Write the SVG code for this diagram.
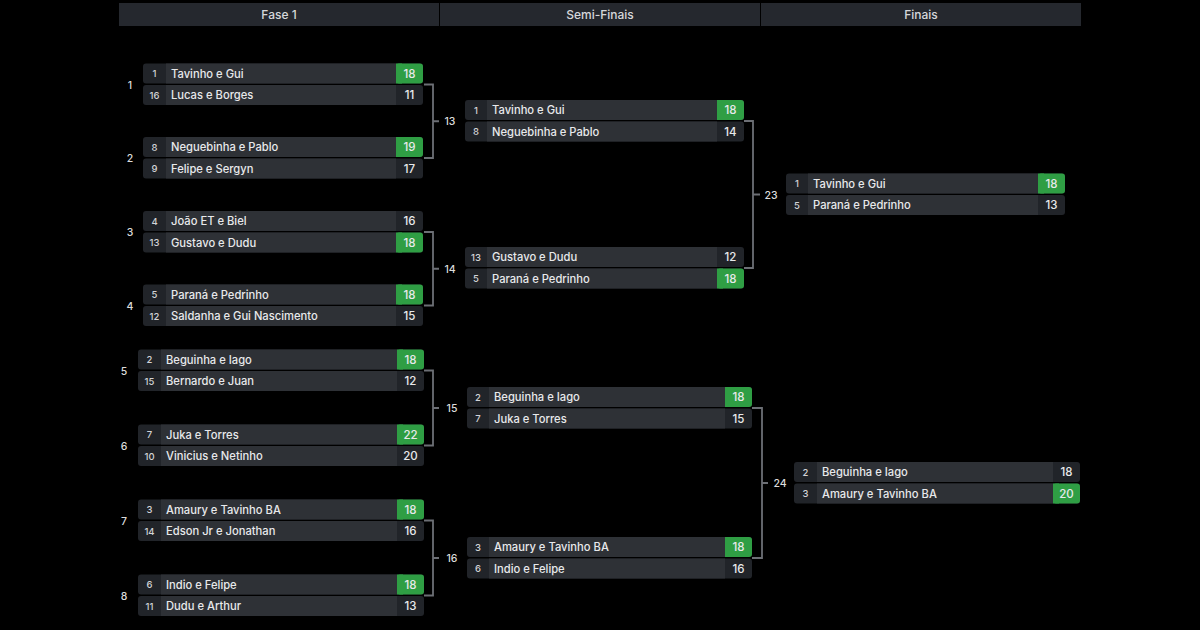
<svg xmlns="http://www.w3.org/2000/svg" width="1200" height="630" viewBox="0 0 1200 630">
<style>
text{font-family:Inter,"Noto Sans","Liberation Sans",sans-serif;fill:#e8e9eb;font-weight:500}
.hdr{fill:#25282e}
.ht{font-size:12px;text-anchor:middle;fill:#d6d7da}
.cell{fill:#212429}
.nm{fill:#2e3136}
.win{fill:#2f9e44}
.sd{font-size:9.5px;text-anchor:middle;fill:#d2d3d6}
.tn{font-size:11.2px}
.sc{font-size:11.5px;text-anchor:middle}
.lbl{font-size:10.5px;text-anchor:middle;fill:#dcdcdc}
.con{fill:none;stroke:#6c6f75;stroke-width:1.8}
</style>
<rect width="1200" height="630" fill="#000"/>
<g id="headers">
<rect class="hdr" x="119" y="3" width="320" height="23"/>
<rect class="hdr" x="440" y="3" width="320" height="23"/>
<rect class="hdr" x="761" y="3" width="320" height="23"/>
<text class="ht" x="279" y="19">Fase 1</text>
<text class="ht" x="600" y="19">Semi-Finais</text>
<text class="ht" x="921" y="19">Finais</text>
</g>
<g id="connectors">
<path class="con" d="M424 84.5H433V158H424M433 121.25H439"/>
<path class="con" d="M424 232H433V305.5H424M433 268.75H439"/>
<path class="con" d="M424 370.5H433V445.5H424M433 408H439"/>
<path class="con" d="M424 520.5H433V595.5H424M433 558H439"/>
<path class="con" d="M744 121H753V268H744M753 194.5H760"/>
<path class="con" d="M752 408H762V558H752M762 483H768"/>
</g>
<g id="connector-labels">
<text class="lbl" x="450" y="125">13</text>
<text class="lbl" x="450" y="272.5">14</text>
<text class="lbl" x="452" y="412">15</text>
<text class="lbl" x="452" y="562">16</text>
<text class="lbl" x="771" y="198.5">23</text>
<text class="lbl" x="780" y="487">24</text>
</g>
<g id="match-labels">
<text class="lbl" x="130" y="88.5">1</text>
<text class="lbl" x="130" y="162">2</text>
<text class="lbl" x="130" y="236">3</text>
<text class="lbl" x="130" y="309.5">4</text>
<text class="lbl" x="124" y="374.5">5</text>
<text class="lbl" x="124" y="449.5">6</text>
<text class="lbl" x="124" y="524.5">7</text>
<text class="lbl" x="124" y="599.5">8</text>
</g>

<g id="m1" transform="translate(143,63.5)">
<rect class="cell" width="280" height="20" rx="3"/><rect class="nm" x="23" width="230" height="20"/><rect class="win" x="253" width="27" height="20" rx="3"/><rect class="win" x="253" width="6" height="20"/>
<text class="sd" x="11.5" y="13.5">1</text><text class="tn" x="28" y="14.2">Tavinho e Gui</text><text class="sc" x="266.5" y="14.2">18</text>
<rect class="cell" y="21.5" width="280" height="20" rx="3"/><rect class="nm" x="23" y="21.5" width="230" height="20"/>
<text class="sd" x="11.5" y="35">16</text><text class="tn" x="28" y="35.7">Lucas e Borges</text><text class="sc" x="266.5" y="35.7">11</text>
</g>
<g id="m2" transform="translate(143,137)">
<rect class="cell" width="280" height="20" rx="3"/><rect class="nm" x="23" width="230" height="20"/><rect class="win" x="253" width="27" height="20" rx="3"/><rect class="win" x="253" width="6" height="20"/>
<text class="sd" x="11.5" y="13.5">8</text><text class="tn" x="28" y="14.2">Neguebinha e Pablo</text><text class="sc" x="266.5" y="14.2">19</text>
<rect class="cell" y="21.5" width="280" height="20" rx="3"/><rect class="nm" x="23" y="21.5" width="230" height="20"/>
<text class="sd" x="11.5" y="35">9</text><text class="tn" x="28" y="35.7">Felipe e Sergyn</text><text class="sc" x="266.5" y="35.7">17</text>
</g>
<g id="m3" transform="translate(143,211)">
<rect class="cell" width="280" height="20" rx="3"/><rect class="nm" x="23" width="230" height="20"/>
<text class="sd" x="11.5" y="13.5">4</text><text class="tn" x="28" y="14.2">João ET e Biel</text><text class="sc" x="266.5" y="14.2">16</text>
<rect class="cell" y="21.5" width="280" height="20" rx="3"/><rect class="nm" x="23" y="21.5" width="230" height="20"/><rect class="win" x="253" y="21.5" width="27" height="20" rx="3"/><rect class="win" x="253" y="21.5" width="6" height="20"/>
<text class="sd" x="11.5" y="35">13</text><text class="tn" x="28" y="35.7">Gustavo e Dudu</text><text class="sc" x="266.5" y="35.7">18</text>
</g>
<g id="m4" transform="translate(143,284.5)">
<rect class="cell" width="280" height="20" rx="3"/><rect class="nm" x="23" width="230" height="20"/><rect class="win" x="253" width="27" height="20" rx="3"/><rect class="win" x="253" width="6" height="20"/>
<text class="sd" x="11.5" y="13.5">5</text><text class="tn" x="28" y="14.2">Paraná e Pedrinho</text><text class="sc" x="266.5" y="14.2">18</text>
<rect class="cell" y="21.5" width="280" height="20" rx="3"/><rect class="nm" x="23" y="21.5" width="230" height="20"/>
<text class="sd" x="11.5" y="35">12</text><text class="tn" x="28" y="35.7">Saldanha e Gui Nascimento</text><text class="sc" x="266.5" y="35.7">15</text>
</g>
<g id="m5" transform="translate(138,349.5)">
<rect class="cell" width="286" height="20" rx="3"/><rect class="nm" x="23" width="236" height="20"/><rect class="win" x="259" width="27" height="20" rx="3"/><rect class="win" x="259" width="6" height="20"/>
<text class="sd" x="11.5" y="13.5">2</text><text class="tn" x="28" y="14.2">Beguinha e Iago</text><text class="sc" x="272.5" y="14.2">18</text>
<rect class="cell" y="21.5" width="286" height="20" rx="3"/><rect class="nm" x="23" y="21.5" width="236" height="20"/>
<text class="sd" x="11.5" y="35">15</text><text class="tn" x="28" y="35.7">Bernardo e Juan</text><text class="sc" x="272.5" y="35.7">12</text>
</g>
<g id="m6" transform="translate(138,424.5)">
<rect class="cell" width="286" height="20" rx="3"/><rect class="nm" x="23" width="236" height="20"/><rect class="win" x="259" width="27" height="20" rx="3"/><rect class="win" x="259" width="6" height="20"/>
<text class="sd" x="11.5" y="13.5">7</text><text class="tn" x="28" y="14.2">Juka e Torres</text><text class="sc" x="272.5" y="14.2">22</text>
<rect class="cell" y="21.5" width="286" height="20" rx="3"/><rect class="nm" x="23" y="21.5" width="236" height="20"/>
<text class="sd" x="11.5" y="35">10</text><text class="tn" x="28" y="35.7">Vinicius e Netinho</text><text class="sc" x="272.5" y="35.7">20</text>
</g>
<g id="m7" transform="translate(138,499.5)">
<rect class="cell" width="286" height="20" rx="3"/><rect class="nm" x="23" width="236" height="20"/><rect class="win" x="259" width="27" height="20" rx="3"/><rect class="win" x="259" width="6" height="20"/>
<text class="sd" x="11.5" y="13.5">3</text><text class="tn" x="28" y="14.2">Amaury e Tavinho BA</text><text class="sc" x="272.5" y="14.2">18</text>
<rect class="cell" y="21.5" width="286" height="20" rx="3"/><rect class="nm" x="23" y="21.5" width="236" height="20"/>
<text class="sd" x="11.5" y="35">14</text><text class="tn" x="28" y="35.7">Edson Jr e Jonathan</text><text class="sc" x="272.5" y="35.7">16</text>
</g>
<g id="m8" transform="translate(138,574.5)">
<rect class="cell" width="286" height="20" rx="3"/><rect class="nm" x="23" width="236" height="20"/><rect class="win" x="259" width="27" height="20" rx="3"/><rect class="win" x="259" width="6" height="20"/>
<text class="sd" x="11.5" y="13.5">6</text><text class="tn" x="28" y="14.2">Indio e Felipe</text><text class="sc" x="272.5" y="14.2">18</text>
<rect class="cell" y="21.5" width="286" height="20" rx="3"/><rect class="nm" x="23" y="21.5" width="236" height="20"/>
<text class="sd" x="11.5" y="35">11</text><text class="tn" x="28" y="35.7">Dudu e Arthur</text><text class="sc" x="272.5" y="35.7">13</text>
</g>

<g id="s1" transform="translate(465,100)">
<rect class="cell" width="279" height="20" rx="3"/><rect class="nm" x="22" width="230" height="20"/><rect class="win" x="252" width="27" height="20" rx="3"/><rect class="win" x="252" width="6" height="20"/>
<text class="sd" x="11" y="13.5">1</text><text class="tn" x="27" y="14.2">Tavinho e Gui</text><text class="sc" x="265.5" y="14.2">18</text>
<rect class="cell" y="21.5" width="279" height="20" rx="3"/><rect class="nm" x="22" y="21.5" width="230" height="20"/>
<text class="sd" x="11" y="35">8</text><text class="tn" x="27" y="35.7">Neguebinha e Pablo</text><text class="sc" x="265.5" y="35.7">14</text>
</g>
<g id="s2" transform="translate(465,247)">
<rect class="cell" width="279" height="20" rx="3"/><rect class="nm" x="22" width="230" height="20"/>
<text class="sd" x="11" y="13.5">13</text><text class="tn" x="27" y="14.2">Gustavo e Dudu</text><text class="sc" x="265.5" y="14.2">12</text>
<rect class="cell" y="21.5" width="279" height="20" rx="3"/><rect class="nm" x="22" y="21.5" width="230" height="20"/><rect class="win" x="252" y="21.5" width="27" height="20" rx="3"/><rect class="win" x="252" y="21.5" width="6" height="20"/>
<text class="sd" x="11" y="35">5</text><text class="tn" x="27" y="35.7">Paraná e Pedrinho</text><text class="sc" x="265.5" y="35.7">18</text>
</g>
<g id="s3" transform="translate(467,387)">
<rect class="cell" width="285" height="20" rx="3"/><rect class="nm" x="22" width="236" height="20"/><rect class="win" x="258" width="27" height="20" rx="3"/><rect class="win" x="258" width="6" height="20"/>
<text class="sd" x="11" y="13.5">2</text><text class="tn" x="27" y="14.2">Beguinha e Iago</text><text class="sc" x="271.5" y="14.2">18</text>
<rect class="cell" y="21.5" width="285" height="20" rx="3"/><rect class="nm" x="22" y="21.5" width="236" height="20"/>
<text class="sd" x="11" y="35">7</text><text class="tn" x="27" y="35.7">Juka e Torres</text><text class="sc" x="271.5" y="35.7">15</text>
</g>
<g id="s4" transform="translate(467,537)">
<rect class="cell" width="285" height="20" rx="3"/><rect class="nm" x="22" width="236" height="20"/><rect class="win" x="258" width="27" height="20" rx="3"/><rect class="win" x="258" width="6" height="20"/>
<text class="sd" x="11" y="13.5">3</text><text class="tn" x="27" y="14.2">Amaury e Tavinho BA</text><text class="sc" x="271.5" y="14.2">18</text>
<rect class="cell" y="21.5" width="285" height="20" rx="3"/><rect class="nm" x="22" y="21.5" width="236" height="20"/>
<text class="sd" x="11" y="35">6</text><text class="tn" x="27" y="35.7">Indio e Felipe</text><text class="sc" x="271.5" y="35.7">16</text>
</g>

<g id="f1" transform="translate(786,173.5)">
<rect class="cell" width="279" height="20" rx="3"/><rect class="nm" x="22" width="230" height="20"/><rect class="win" x="252" width="27" height="20" rx="3"/><rect class="win" x="252" width="6" height="20"/>
<text class="sd" x="11" y="13.5">1</text><text class="tn" x="27" y="14.2">Tavinho e Gui</text><text class="sc" x="265.5" y="14.2">18</text>
<rect class="cell" y="21.5" width="279" height="20" rx="3"/><rect class="nm" x="22" y="21.5" width="230" height="20"/>
<text class="sd" x="11" y="35">5</text><text class="tn" x="27" y="35.7">Paraná e Pedrinho</text><text class="sc" x="265.5" y="35.7">13</text>
</g>
<g id="f2" transform="translate(794,462)">
<rect class="cell" width="286" height="20" rx="3"/><rect class="nm" x="23" width="236" height="20"/>
<text class="sd" x="11.5" y="13.5">2</text><text class="tn" x="28" y="14.2">Beguinha e Iago</text><text class="sc" x="272.5" y="14.2">18</text>
<rect class="cell" y="21.5" width="286" height="20" rx="3"/><rect class="nm" x="23" y="21.5" width="236" height="20"/><rect class="win" x="259" y="21.5" width="27" height="20" rx="3"/><rect class="win" x="259" y="21.5" width="6" height="20"/>
<text class="sd" x="11.5" y="35">3</text><text class="tn" x="28" y="35.7">Amaury e Tavinho BA</text><text class="sc" x="272.5" y="35.7">20</text>
</g>
</svg>
